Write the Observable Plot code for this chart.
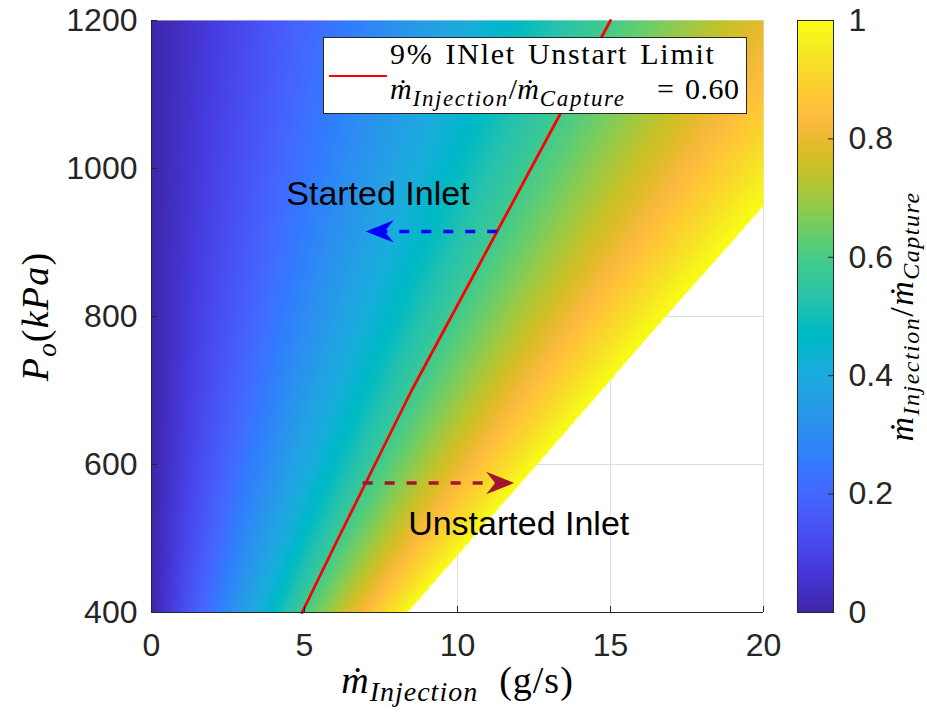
<!DOCTYPE html>
<html><head><meta charset="utf-8">
<script src="https://cdn.jsdelivr.net/npm/d3@7"></script>
<script src="https://cdn.jsdelivr.net/npm/@observablehq/plot@0.6"></script>
<style>
body{margin:0;background:#fff;}
#wrap{position:relative;width:927px;height:715px;overflow:hidden;}
#wrap > svg{position:absolute;top:0;}
#legend{position:absolute;left:323px;top:37px;width:424px;height:77px;box-sizing:border-box;border:1px solid #262626;background:#fff;font-family:"Liberation Serif","DejaVu Serif",serif;color:#000;}
#legend .sample{position:absolute;left:5px;top:37px;width:58px;height:2px;background:#ff0000;}
#legend .l1{position:absolute;left:66px;top:1px;font-size:30px;line-height:30px;letter-spacing:1.7px;word-spacing:3px;white-space:nowrap;}
#legend .l2{position:absolute;left:66px;top:36px;font-size:30px;line-height:30px;white-space:nowrap;}
#legend .l2 i{letter-spacing:1px;}
#legend sub{font-size:23px;vertical-align:-7px;line-height:0;font-style:italic;letter-spacing:1.6px;}
#legend .eq{position:absolute;left:333px;top:36px;font-size:30px;line-height:30px;}
#legend .val{position:absolute;left:361px;top:36px;font-size:30px;line-height:30px;letter-spacing:0.5px;}
</style></head><body><div id="wrap"></div>
<script>
// ---------- data ----------
const mdotGrid = [0, 2, 4, 6, 8, 10, 12, 14, 16, 18, 20];              // g/s
const pressureGrid = [400, 500, 600, 700, 800, 900, 1000, 1100, 1200]; // kPa
// injection / capture mass-flow ratio at each grid point (values above 1 are left blank)
const ratioAt400  = [0, 0.239, 0.478, 0.717, 0.956, 1.195, 1.434, 1.673, 1.912, 2.151, 2.389];
const ratioAt500  = [0, 0.191, 0.382, 0.573, 0.763, 0.954, 1.145, 1.336, 1.527, 1.718, 1.908];
const ratioAt600  = [0, 0.159, 0.317, 0.476, 0.635, 0.794, 0.952, 1.111, 1.270, 1.429, 1.587];
const ratioAt700  = [0, 0.136, 0.272, 0.408, 0.544, 0.680, 0.816, 0.952, 1.088, 1.224, 1.361];
const ratioAt800  = [0, 0.119, 0.238, 0.357, 0.476, 0.595, 0.714, 0.833, 0.952, 1.071, 1.190];
const ratioAt900  = [0, 0.106, 0.211, 0.317, 0.422, 0.528, 0.633, 0.739, 0.844, 0.950, 1.055];
const ratioAt1000 = [0, 0.095, 0.190, 0.285, 0.380, 0.475, 0.570, 0.665, 0.760, 0.855, 0.950];
const ratioAt1100 = [0, 0.086, 0.172, 0.259, 0.345, 0.431, 0.517, 0.603, 0.690, 0.776, 0.862];
const ratioAt1200 = [0, 0.079, 0.158, 0.237, 0.316, 0.395, 0.474, 0.553, 0.632, 0.711, 0.791];
const ratioRows = [ratioAt400, ratioAt500, ratioAt600, ratioAt700, ratioAt800, ratioAt900, ratioAt1000, ratioAt1100, ratioAt1200];

// 9% inlet unstart limit (ratio = 0.60) contour
const limitPressure = [400, 500, 600, 700, 800, 900, 1000, 1100, 1200];
const limitMdot     = [4.92, 6.1, 7.3, 8.5, 9.8, 11.1, 12.4, 13.7, 15.0];

// annotations
const noteText = ["Started Inlet", "Unstarted Inlet"];
const noteMdot = [7.4, 12.0];
const notePressure = [966, 520];
const arrowTail = [11.3, 6.9];
const arrowTip = [7.0, 11.85];
const arrowPressure = [915, 575];

const xTicks = [0, 5, 10, 15, 20];
const yTicks = [400, 600, 800, 1000, 1200];
const cbTicks = [0, 0.2, 0.4, 0.6, 0.8, 1];

// ---------- colormap (parula) ----------
const parula = [
[0.2422,0.1504,0.6603],[0.2504,0.1650,0.7076],[0.2578,0.1818,0.7511],[0.2647,0.1978,0.7952],
[0.2706,0.2147,0.8364],[0.2751,0.2342,0.8710],[0.2783,0.2559,0.8991],[0.2803,0.2782,0.9221],
[0.2813,0.3006,0.9414],[0.2810,0.3228,0.9579],[0.2795,0.3447,0.9717],[0.2760,0.3667,0.9829],
[0.2699,0.3892,0.9906],[0.2602,0.4123,0.9952],[0.2440,0.4358,0.9988],[0.2206,0.4603,0.9973],
[0.1963,0.4847,0.9892],[0.1834,0.5074,0.9798],[0.1786,0.5289,0.9682],[0.1764,0.5499,0.9520],
[0.1687,0.5703,0.9359],[0.1540,0.5902,0.9218],[0.1460,0.6091,0.9079],[0.1380,0.6276,0.8973],
[0.1248,0.6459,0.8883],[0.1113,0.6635,0.8763],[0.0952,0.6798,0.8598],[0.0689,0.6948,0.8394],
[0.0297,0.7082,0.8163],[0.0036,0.7203,0.7917],[0.0067,0.7312,0.7660],[0.0433,0.7411,0.7394],
[0.0964,0.7500,0.7120],[0.1408,0.7584,0.6842],[0.1717,0.7670,0.6554],[0.1938,0.7758,0.6251],
[0.2161,0.7843,0.5923],[0.2470,0.7918,0.5567],[0.2906,0.7973,0.5188],[0.3406,0.8008,0.4789],
[0.3909,0.8029,0.4354],[0.4456,0.8024,0.3909],[0.5044,0.7993,0.3480],[0.5616,0.7942,0.3045],
[0.6174,0.7876,0.2612],[0.6720,0.7793,0.2227],[0.7242,0.7698,0.1910],[0.7738,0.7598,0.1646],
[0.8203,0.7498,0.1535],[0.8634,0.7406,0.1596],[0.9035,0.7330,0.1774],[0.9393,0.7288,0.2100],
[0.9728,0.7298,0.2394],[0.9956,0.7434,0.2371],[0.9970,0.7659,0.2199],[0.9952,0.7893,0.2028],
[0.9892,0.8136,0.1885],[0.9807,0.8386,0.1751],[0.9739,0.8646,0.1624],[0.9702,0.8903,0.1494],
[0.9676,0.9174,0.1337],[0.9699,0.9451,0.1157],[0.9763,0.9724,0.0938],[0.9769,0.9839,0.0805]];
const parulaInterp = d3.piecewise(d3.interpolateRgb, parula.map(c => d3.rgb(c[0]*255, c[1]*255, c[2]*255)));
const colorFn = t => (t > 1.0 || t < -0.001 || isNaN(t)) ? null : parulaInterp(Math.max(0, Math.min(1, t)));

// ---------- tables ----------
const limit = limitPressure.map((p, i) => ({p, mdot: limitMdot[i]}));
const notes = noteText.map((t, i) => ({t, mdot: noteMdot[i], p: notePressure[i]}));
const arrows = arrowTail.map((a, i) => ({tail: a, tip: arrowTip[i], p: arrowPressure[i]}));

// sample the read grid for the raster: linear along mdot, harmonic between pressure rows
function ratioAt(m, p) {
  const j = Math.max(0, Math.min(mdotGrid.length - 2, d3.bisectRight(mdotGrid, m) - 1));
  const i = Math.max(0, Math.min(pressureGrid.length - 2, d3.bisectRight(pressureGrid, p) - 1));
  const u = (m - mdotGrid[j]) / (mdotGrid[j + 1] - mdotGrid[j]);
  const v = (p - pressureGrid[i]) / (pressureGrid[i + 1] - pressureGrid[i]);
  const r0 = ratioRows[i][j] * (1 - u) + ratioRows[i][j + 1] * u;
  const r1 = ratioRows[i + 1][j] * (1 - u) + ratioRows[i + 1][j + 1] * u;
  if (r0 <= 0 || r1 <= 0) return r0 * (1 - v) + r1 * v;
  return 1 / ((1 - v) / r0 + v / r1);
}

// concave arrowhead, tip at origin, pointing right
const arrowHead = {draw(ctx, size) {
  const s = Math.sqrt(size / Math.PI);
  ctx.moveTo(0, 0); ctx.lineTo(-2 * s, -0.8 * s); ctx.lineTo(-1.35 * s, 0); ctx.lineTo(-2 * s, 0.8 * s); ctx.closePath();
}};

const sans = '"Liberation Sans", Arial, Helvetica, sans-serif';
const serif = '"Liberation Serif", "DejaVu Serif", "Times New Roman", serif';
const ink = "#262626";

const main = Plot.plot({
  width: 927, height: 715,
  marginLeft: 151, marginRight: 164, marginTop: 20, marginBottom: 103,
  style: {fontFamily: sans, color: ink, background: "transparent", overflow: "visible"},
  x: {domain: [0, 20], label: null},
  y: {domain: [400, 1200], label: null},
  color: {type: "linear", domain: [0, 1], interpolate: colorFn},
  marks: [
    Plot.gridX(xTicks, {stroke: "#dedede", strokeOpacity: 1}),
    Plot.gridY(yTicks, {stroke: "#dedede", strokeOpacity: 1}),
    Plot.raster({x1: 0, x2: 20, y1: 400, y2: 1200, fill: ratioAt}),
    Plot.line(limit, {x: "mdot", y: "p", stroke: "#ff0000", strokeWidth: 2.8}),
    Plot.ruleX([0], {stroke: ink}),
    Plot.ruleY([400], {stroke: ink}),
    Plot.axisX(xTicks, {tickSize: -6, tickPadding: 27, fontSize: 32, stroke: ink, fill: ink, tickFormat: d => String(d)}),
    Plot.axisY(yTicks, {tickSize: -6, tickPadding: 20, fontSize: 32, stroke: ink, fill: ink, tickFormat: d => String(d)}),
    Plot.link(arrows.slice(0, 1), {x1: "tail", x2: "tip", y1: "p", y2: "p", stroke: "#0000ff", strokeWidth: 3.5, strokeDasharray: "10,12"}),
    Plot.dot(arrows.slice(0, 1), {x: "tip", y: "p", symbol: arrowHead, r: 14, fill: "#0000ff", stroke: null, rotate: 180}),
    Plot.link(arrows.slice(1), {x1: "tail", x2: "tip", y1: "p", y2: "p", stroke: "#a2142f", strokeWidth: 3.5, strokeDasharray: "10,12"}),
    Plot.dot(arrows.slice(1), {x: "tip", y: "p", symbol: arrowHead, r: 14, fill: "#a2142f", stroke: null, rotate: 0}),
    Plot.text(notes, {x: "mdot", y: "p", text: "t", fontSize: 34, fill: "#000"}),
    Plot.text(["XLABEL_KEY"], {frameAnchor: "bottom", textAnchor: "middle", dy: 80, fontSize: 38, fill: "#000"}),
    Plot.text(["YLABEL_KEY"], {frameAnchor: "left", textAnchor: "middle", dx: -116, rotate: -90, fontSize: 38, fill: "#000"})
  ]
});

const cbar = Plot.plot({
  width: 130, height: 715,
  marginLeft: 0, marginRight: 94, marginTop: 20, marginBottom: 103,
  style: {fontFamily: sans, color: ink, background: "transparent", overflow: "visible"},
  x: {domain: [0, 1], axis: null},
  y: {domain: [0, 1], label: null, axis: null},
  color: {type: "linear", domain: [0, 1], interpolate: colorFn},
  marks: [
    Plot.raster({x1: 0, x2: 1, y1: 0, y2: 1, width: 1, height: 512, fill: (x, y) => y, imageRendering: "auto"}),
    Plot.frame({stroke: ink}),
    Plot.axisY(cbTicks, {anchor: "right", tickSize: -6, tickPadding: 21, fontSize: 32, stroke: ink, fill: ink, tickFormat: d => String(+d.toFixed(1))}),
    Plot.text(["CLABEL_KEY"], {frameAnchor: "right", textAnchor: "middle", dx: 69, rotate: -90, fontSize: 34, fill: "#000"})
  ]
});

function richText(svg, key, parts, size, subSize, shift, spacing) {
  d3.select(svg).selectAll("text").filter(function() { return this.textContent === key; }).each(function() {
    const t = d3.select(this);
    t.text(null).attr("font-family", serif).attr("font-size", size).attr("letter-spacing", spacing);
    let inSub = false;
    for (const p of parts) {
      const s = t.append("tspan").text(p.t).attr("font-style", p.i ? "italic" : "normal");
      if (p.sub) { s.attr("font-size", subSize); if (!inSub) { s.attr("dy", shift); inSub = true; } }
      else { s.attr("font-size", size); if (inSub) { s.attr("dy", -shift); inSub = false; } }
    }
  });
}

richText(main, "XLABEL_KEY", [{t: "ṁ", i: true}, {t: "Injection", i: true, sub: true}, {t: "\u00a0\u00a0(g/s)"}], 38, 28, 8, 1);
richText(main, "YLABEL_KEY", [{t: "P", i: true}, {t: "o", i: true, sub: true}, {t: "("}, {t: "kPa", i: true}, {t: ")"}], 38, 27, 8, 1.2);
richText(cbar, "CLABEL_KEY", [{t: "ṁ", i: true}, {t: "Injection", i: true, sub: true}, {t: "/"}, {t: "ṁ", i: true}, {t: "Capture", i: true, sub: true}], 34, 24, 6, 1.5);

const wrap = document.getElementById("wrap");
main.style.left = "0px";
cbar.style.left = "797px";
wrap.appendChild(main);
wrap.appendChild(cbar);

const legend = document.createElement("div");
legend.id = "legend";
legend.innerHTML = '<div class="sample"></div>' +
  '<div class="l1">9% INlet Unstart Limit</div>' +
  '<div class="l2"><i>ṁ</i><sub>Injection</sub>/<i>ṁ</i><sub>Capture</sub></div>' +
  '<div class="eq">=</div><div class="val">0.60</div>';
wrap.appendChild(legend);
</script></body></html>
